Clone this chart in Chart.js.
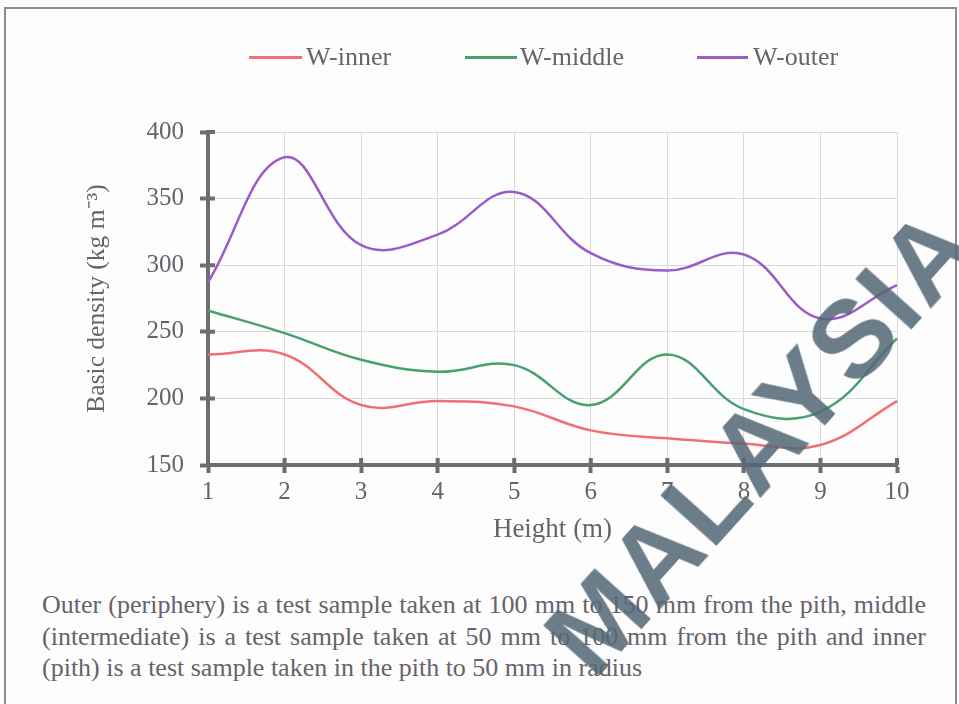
<!DOCTYPE html>
<html>
<head>
<meta charset="utf-8">
<script src="https://cdn.jsdelivr.net/npm/chart.js@4.4.1/dist/chart.umd.min.js"></script>
<style>
html,body{margin:0;padding:0;background:#fdfdfd;}
body{width:959px;height:704px;position:relative;overflow:hidden;font-family:'Liberation Serif','Times New Roman',serif;color:#67626b;}
#frame{position:absolute;left:4px;top:7px;width:953px;height:697px;border:2px solid #8e8a94;border-bottom:none;box-sizing:border-box;}
#wrap{position:absolute;left:0;top:0;width:959px;height:560px;}
.lg{position:absolute;top:42px;height:30px;line-height:30px;font-size:26px;white-space:nowrap;}
.lg i{position:absolute;top:14px;height:3px;display:block;}
#caption{position:absolute;left:42px;top:589px;width:884px;font-size:26px;line-height:31.5px;}
#caption div{text-align:justify;text-align-last:justify;white-space:nowrap;}
#caption div.last{text-align:left;text-align-last:left;}
#wm{position:absolute;left:760px;top:440px;transform:translate(-50%,-50%) rotate(-48deg);font-family:'Liberation Sans',Arial,sans-serif;font-weight:bold;font-size:110px;color:rgba(82,102,118,0.85);white-space:nowrap;letter-spacing:2px;}
</style>
</head>
<body>
<div id="frame"></div>
<div id="wrap"><canvas id="c" width="959" height="560"></canvas></div>
<div id="legend"></div>
<div id="caption">
<div>Outer (periphery) is a test sample taken at 100 mm to 150 mm from the pith, middle</div>
<div>(intermediate) is a test sample taken at 50 mm to 100 mm from the pith and inner</div>
<div class="last">(pith) is a test sample taken in the pith to 50 mm in radius</div>
</div>
<div id="wm">MALAYSIA</div>
<script>
// ---- data ----
const heights = ['1','2','3','4','5','6','7','8','9','10'];
const wInner  = [233, 233, 195, 198, 194, 176, 170, 166, 165, 198];
const wMiddle = [266, 249, 229, 220, 225, 195, 233, 192, 190, 245];
const wOuter  = [287, 381, 315, 323, 355, 309, 296, 308, 260, 285];
const seriesNames = ['W-inner', 'W-middle', 'W-outer'];
const yTicks = [150, 200, 250, 300, 350, 400];

const colors = ['#ef6f72', '#46a16f', '#9a5cc8'];
const AXIS = '#6e6c72';
const TEXT = '#67626b';
const FONT = "'Liberation Serif','Times New Roman',serif";

// HTML legend
const legendPos = [[249, 53, 306], [465, 52, 520], [697, 51, 753]];
const lg = document.getElementById('legend');
seriesNames.forEach((n, i) => {
  const [lx, lw, tx] = legendPos[i];
  const line = document.createElement('div');
  line.className = 'lg';
  line.style.left = lx + 'px';
  line.innerHTML = '<i style="left:0;width:' + lw + 'px;background:' + colors[i] + '"></i>';
  lg.appendChild(line);
  const t = document.createElement('div');
  t.className = 'lg';
  t.style.left = tx + 'px';
  t.textContent = n;
  lg.appendChild(t);
});

const innerTicks = {
  id: 'innerTicks',
  beforeDatasetsDraw(chart) {
    const {ctx, chartArea: a, scales: {x, y}} = chart;
    ctx.save();
    ctx.strokeStyle = AXIS;
    ctx.lineWidth = 4;
    ctx.beginPath();
    x.ticks.forEach((t, i) => {
      const px = x.getPixelForTick(i);
      ctx.moveTo(px, a.bottom);
      ctx.lineTo(px, a.bottom - 7);
    });
    y.ticks.forEach((t, i) => {
      const py = y.getPixelForTick(i);
      ctx.moveTo(a.left, py);
      ctx.lineTo(a.left + 7, py);
    });
    ctx.stroke();
    ctx.restore();
  }
};

const data = [wInner, wMiddle, wOuter];
new Chart(document.getElementById('c'), {
  type: 'line',
  data: {
    labels: heights,
    datasets: seriesNames.map((n, i) => ({
      label: n,
      data: data[i],
      borderColor: colors[i],
      backgroundColor: colors[i],
      borderWidth: 2.5,
      pointRadius: 0,
      tension: 0.4,
      fill: false
    }))
  },
  options: {
    responsive: false,
    animation: false,
    layout: {padding: {left: 78, right: 62, top: 132, bottom: 10}},
    plugins: {legend: {display: false}, tooltip: {enabled: false}},
    scales: {
      x: {
        offset: false,
        afterFit(s) { s.height = 85; },
        grid: {color: '#d9d9dc', borderDash: [2, 3], lineWidth: 1, tickLength: 8, tickColor: AXIS, tickWidth: 4, tickBorderDash: []},
        border: {color: AXIS, width: 4},
        ticks: {color: TEXT, font: {family: FONT, size: 25}, padding: 4, maxRotation: 0},
        title: {display: true, text: 'Height (m)', color: TEXT, font: {family: FONT, size: 27}, padding: {top: 4, bottom: 4}}
      },
      y: {
        min: 150, max: 400,
        afterFit(s) { s.width = 130; },
        afterBuildTicks(s) { s.ticks = yTicks.map(v => ({value: v})); },
        grid: {color: '#d9d9dc', borderDash: [2, 3], lineWidth: 1, tickLength: 8, tickColor: AXIS, tickWidth: 4, tickBorderDash: []},
        border: {color: AXIS, width: 4},
        ticks: {color: TEXT, font: {family: FONT, size: 25}, padding: 16},
        title: {display: true, text: 'Basic density (kg m\u207B\u00B3)', color: TEXT, font: {family: FONT, size: 25.5}, padding: {top: 4, bottom: 4}}
      }
    }
  },
  plugins: [innerTicks]
});
</script>
</body>
</html>
